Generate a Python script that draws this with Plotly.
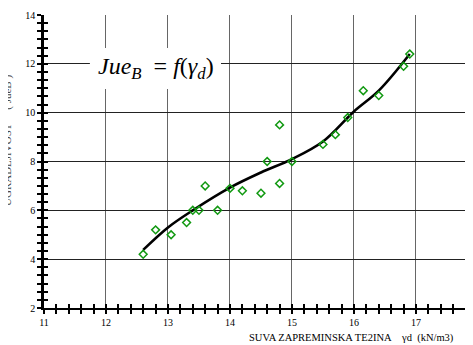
import plotly.graph_objects as go

# measured points: dry unit weight (kN/m3) vs Jue_B
gamma_d = [12.6, 12.8, 13.05, 13.3, 13.4, 13.5, 13.6, 13.8, 14.0, 14.2, 14.5, 14.6,
           14.8, 14.8, 15.0, 15.5, 15.7, 15.9, 16.15, 16.4, 16.8, 16.9]
jue_b = [4.2, 5.2, 5.0, 5.5, 6.0, 6.0, 7.0, 6.0, 6.9, 6.8, 6.7, 8.0,
         9.5, 7.1, 8.0, 8.7, 9.1, 9.8, 10.9, 10.7, 11.9, 12.4]

# fitted curve
fit_x = [12.6, 13.0, 13.4, 14.0, 14.5, 15.0, 15.5, 16.0, 16.4, 16.9]
fit_y = [4.38, 5.3, 6.0, 6.93, 7.55, 8.1, 8.82, 10.05, 10.9, 12.4]

x_ticks = [11, 12, 13, 14, 15, 16, 17]
y_ticks = [2, 4, 6, 8, 10, 12, 14]

SERIF = "Liberation Serif"

fig = go.Figure()
fig.add_trace(go.Scatter(x=fit_x, y=fit_y, mode="lines",
                         line=dict(color="black", width=2.6, shape="spline", smoothing=1.0),
                         showlegend=False, hoverinfo="skip"))
fig.add_trace(go.Scatter(x=gamma_d, y=jue_b, mode="markers",
                         marker=dict(symbol="diamond-open", size=6, color="#119911",
                                     line=dict(width=1.5, color="#119911")),
                         showlegend=False))
# dummy trace for overlay axes (inside ticks)
fig.add_trace(go.Scatter(x=[], y=[], xaxis="x2", yaxis="y2", showlegend=False))

fig.add_shape(type="rect", xref="x", yref="y", x0=11.74, x1=13.855, y0=10.97, y1=12.65,
              fillcolor="white", line=dict(width=0), layer="above")
fig.add_annotation(x=12.81, y=11.83, xref="x", yref="y", showarrow=False,
                   xanchor="center", yanchor="middle",
                   text="<i>Jue</i><sub><i>B</i></sub>&nbsp;&nbsp;= <i>f</i>(<i>γ</i><sub><i>d</i></sub>)",
                   font=dict(family=SERIF, size=24, color="black"))
fig.add_annotation(x=0.473, y=-0.102, xref="paper", yref="paper", xanchor="left",
                   yanchor="middle", showarrow=False,
                   text="SUVA ZAPREMINSKA TE2INA&nbsp;&nbsp;&nbsp;&nbsp;γd&nbsp;&nbsp;(kN/m3)",
                   font=dict(family=SERIF, size=10.5, color="black"))
fig.add_annotation(x=-0.0839, y=0.57, xref="paper", yref="paper", showarrow=False,
                   xanchor="center", yanchor="middle",
                   textangle=-90, text="UGRADLJIVOST&nbsp;&nbsp;&nbsp;&nbsp;&nbsp;( JueB )",
                   font=dict(family=SERIF, size=11, color="#444"))

common_font = dict(family=SERIF, size=10, color="black")
fig.update_layout(
    width=465, height=337,
    margin=dict(l=36, r=0, t=7, b=37),
    paper_bgcolor="white", plot_bgcolor="white",
    xaxis=dict(range=[11, 17.92], tickvals=x_ticks, ticktext=[str(v) for v in x_ticks],
               showgrid=True, gridcolor="#666", gridwidth=1,
               showline=True, linecolor="black", linewidth=2,
               ticks="outside", ticklen=4, tickwidth=1.5, tickcolor="black",
               minor=dict(dtick=0.2, tick0=11, ticks="outside", ticklen=4, tickwidth=1.5,
                          tickcolor="black", showgrid=False),
               tickfont=common_font, zeroline=False),
    yaxis=dict(range=[2, 14], tickvals=y_ticks, ticktext=[str(v) for v in y_ticks],
               showgrid=True, gridcolor="#222", gridwidth=1,
               showline=True, linecolor="black", linewidth=2.5,
               ticks="outside", ticklen=4, tickwidth=1.5, tickcolor="black",
               minor=dict(dtick=2/6, tick0=2, ticks="outside", ticklen=4, tickwidth=1.5,
                          tickcolor="black", showgrid=False),
               tickfont=common_font, zeroline=False),
    xaxis2=dict(range=[11, 17.92], overlaying="x", anchor="y2", side="bottom",
                showgrid=False, showticklabels=False, showline=False, zeroline=False,
                tickvals=x_ticks, ticks="inside", ticklen=4, tickwidth=1.5, tickcolor="black",
                minor=dict(dtick=0.2, tick0=11, ticks="inside", ticklen=4, tickwidth=1.5,
                           tickcolor="black")),
    yaxis2=dict(range=[2, 14], overlaying="y", anchor="x2", side="left",
                showgrid=False, showticklabels=False, showline=False, zeroline=False,
                tickvals=y_ticks, ticks="inside", ticklen=4, tickwidth=1.5, tickcolor="black",
                minor=dict(dtick=2/6, tick0=2, ticks="inside", ticklen=4, tickwidth=1.5,
                           tickcolor="black")),
)

fig.write_html("out.html")
